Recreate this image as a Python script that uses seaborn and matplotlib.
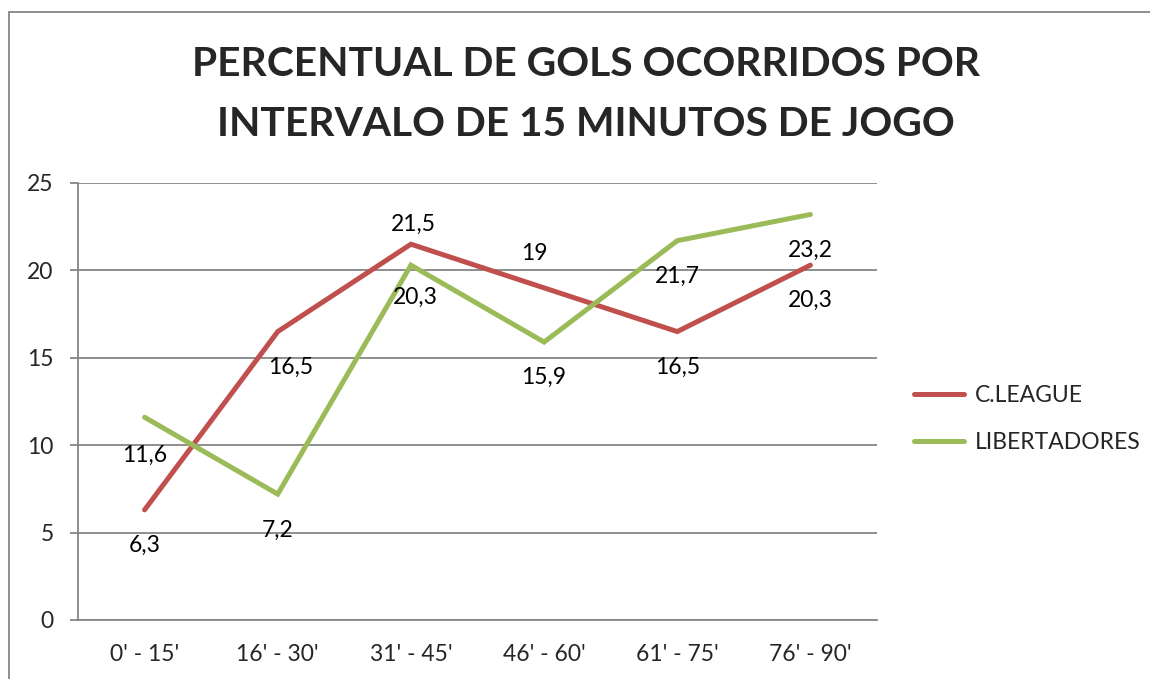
import matplotlib
matplotlib.use('Agg')
import matplotlib.pyplot as plt
from matplotlib.patches import Rectangle
import seaborn as sns
import pandas as pd

# Chart data
intervals = ["0' - 15'", "16' - 30'", "31' - 45'", "46' - 60'", "61' - 75'", "76' - 90'"]
champions_league = [6.3, 16.5, 21.5, 19, 16.5, 20.3]
libertadores = [11.6, 7.2, 20.3, 15.9, 21.7, 23.2]
series_names = ['C.LEAGUE', 'LIBERTADORES']
title_lines = ['PERCENTUAL DE GOLS OCORRIDOS POR', 'INTERVALO DE 15 MINUTOS DE JOGO']

# label offsets in pixels (hand placed in the original)
cl_offsets = [(0, -35), (13, -36), (2, 20), (-10, 34), (0, -36), (0, -35)]
lib_offsets = [(0, -38), (0, -36), (4, -32), (0, -35), (0, -36), (0, -36)]

colors = {'C.LEAGUE': '#C0504D', 'LIBERTADORES': '#9BBB59'}
grid_color = '#868686'
fs = 16.5

sns.set_style('white')
plt.rcParams['font.family'] = ['Lato', 'DejaVu Sans']

df = pd.DataFrame({
    'intervalo': intervals * 2,
    'valor': champions_league + libertadores,
    'serie': [series_names[0]] * len(intervals) + [series_names[1]] * len(intervals),
})

fig = plt.figure(figsize=(11.5, 6.79), dpi=100)
ax = fig.add_axes([78 / 1150, 1 - 620 / 679, 799 / 1150, 437 / 679])

sns.lineplot(data=df, x='intervalo', y='valor', hue='serie', palette=colors,
             linewidth=3.6, sort=False, ax=ax, legend=True)
for line in ax.lines:
    line.set_solid_capstyle('round')
    line.set_solid_joinstyle('miter')

# data labels
for vals, offs in [(champions_league, cl_offsets), (libertadores, lib_offsets)]:
    for i, (v, (dx, dy)) in enumerate(zip(vals, offs)):
        ax.annotate(f'{v:g}'.replace('.', ','), (i, v), xytext=(dx, dy),
                    textcoords='offset pixels', ha='center', va='center',
                    fontsize=fs, color='black')

ax.set_xlim(-0.5, len(intervals) - 0.5)
ax.set_ylim(0, 25)
ax.set_yticks(range(0, 26, 5))
ax.set_xlabel('')
ax.set_ylabel('')

ax.yaxis.grid(True, color=grid_color, linewidth=1.3)
ax.set_axisbelow(True)
for side in ['top', 'right']:
    ax.spines[side].set_visible(False)
for side in ['left', 'bottom']:
    ax.spines[side].set_color(grid_color)
    ax.spines[side].set_linewidth(1.3)

ax.set_xticks([x - 0.5 for x in range(len(intervals) + 1)], minor=True)
ax.tick_params(axis='x', which='major', length=0, pad=17, labelsize=fs)
ax.tick_params(axis='x', which='minor', length=5.5, width=1.3, color=grid_color, direction='out')
ax.tick_params(axis='y', length=5.5, width=1.3, color=grid_color, direction='out',
               labelsize=fs, pad=12, left=True)

handles, labels = ax.get_legend_handles_labels()
ax.legend(handles, labels, loc='center left', bbox_to_anchor=(914 / 1150, 1 - 419 / 679),
          bbox_transform=fig.transFigure, frameon=False, fontsize=fs,
          handlelength=2.2, handletextpad=0.45, labelspacing=1.1,
          borderpad=0, borderaxespad=0)

fig.text(586 / 1150, 1 - 65 / 679, title_lines[0], ha='center', va='center',
         fontsize=29.3, fontweight='bold')
fig.text(586 / 1150, 1 - 125 / 679, title_lines[1], ha='center', va='center',
         fontsize=29.3, fontweight='bold')

# outer chart frame (cropped on the right and bottom)
fig.patches.append(Rectangle((9 / 1150, -0.1), 1.2, 1 - 12 / 679 + 0.1,
                             transform=fig.transFigure, fill=False,
                             edgecolor=grid_color, linewidth=1.3))

fig.savefig('out.png', dpi=100)
